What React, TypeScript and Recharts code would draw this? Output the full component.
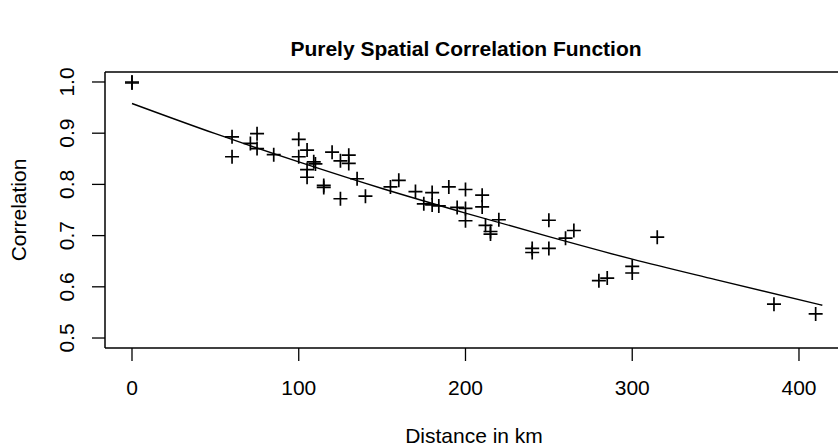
import { ComposedChart, Scatter, Line, XAxis, YAxis, ReferenceLine } from 'recharts';

// station pair distances (km) and their empirical correlations
const distances = [
  0, 0, 60, 60, 71, 75, 75, 85, 100, 100, 105, 105, 105, 109, 110, 115, 115, 120, 125, 125,
  130, 130, 135, 140, 155, 160, 170, 175, 180, 180, 184, 190, 195, 200, 200, 200, 210, 210,
  212, 215, 215, 220, 240, 240, 250, 250, 260, 265, 280, 285, 300, 300, 315, 385, 410,
];
const correlations = [
  1.0, 0.998, 0.893, 0.854, 0.88, 0.899, 0.87, 0.858, 0.888, 0.854, 0.867, 0.829, 0.814, 0.844,
  0.84, 0.798, 0.794, 0.863, 0.846, 0.772, 0.857, 0.841, 0.811, 0.777, 0.795, 0.808, 0.786,
  0.762, 0.784, 0.76, 0.758, 0.795, 0.755, 0.79, 0.753, 0.729, 0.779, 0.756, 0.72, 0.708, 0.703,
  0.731, 0.675, 0.667, 0.73, 0.675, 0.695, 0.71, 0.612, 0.617, 0.64, 0.627, 0.697, 0.566, 0.547,
];

// fitted curve
const fitDistances = [0, 50, 100, 150, 200, 250, 300, 350, 414];
const fitCorrelations = [0.958, 0.899, 0.844, 0.792, 0.744, 0.698, 0.654, 0.614, 0.564];

const xTicks = [0, 100, 200, 300, 400];
const yTicks = [0.5, 0.6, 0.7, 0.8, 0.9, 1.0];

const X_DOMAIN: [number, number] = [-16.19, 423.4];
const Y_DOMAIN: [number, number] = [0.4805, 1.0195];

const FONT = '"Liberation Sans", Arial, Helvetica, sans-serif';

const points = distances.map((d, i) => ({ x: d, y: correlations[i] }));
const fit = fitDistances.map((d, i) => ({ x: d, y: fitCorrelations[i] }));

const Cross = (props: any) => {
  const { cx, cy } = props;
  if (cx == null || cy == null) return null;
  const r = 7;
  return (
    <path
      d={`M${cx - r},${cy}H${cx + r}M${cx},${cy - r}V${cy + r}`}
      stroke="#000"
      strokeWidth={1.7}
      fill="none"
    />
  );
};

const XTick = (props: any) => {
  const { x, payload } = props;
  return (
    <text x={x} y={395} textAnchor="middle" fontSize={21} fontFamily={FONT} fill="#000">
      {payload.value}
    </text>
  );
};

const YTick = (props: any) => {
  const { y, payload } = props;
  const bx = 74;
  return (
    <text
      x={bx}
      y={y}
      transform={`rotate(-90 ${bx} ${y})`}
      textAnchor="middle"
      fontSize={21}
      fontFamily={FONT}
      fill="#000"
    >
      {Number(payload.value).toFixed(1)}
    </text>
  );
};

export default function App() {
  return (
    <div style={{ position: 'absolute', left: 0, top: 0, width: 838, height: 447, background: '#fff' }}>
      <svg width={838} height={447} style={{ position: 'absolute', left: 0, top: 0 }}>
        <text x={466} y={56} textAnchor="middle" fontSize={21} fontWeight="bold" fontFamily={FONT} fill="#000">
          Purely Spatial Correlation Function
        </text>
        <text x={474} y={443} textAnchor="middle" fontSize={21} fontFamily={FONT} fill="#000">
          Distance in km
        </text>
        <text
          x={26}
          y={210}
          transform="rotate(-90 26 210)"
          textAnchor="middle"
          fontSize={21}
          fontFamily={FONT}
          fill="#000"
        >
          Correlation
        </text>
      </svg>
      <div style={{ position: 'absolute', left: 0, top: 0 }}>
        <ComposedChart width={838} height={447} margin={{ top: 72, right: 0, bottom: 0, left: 0 }}>
          <XAxis
            type="number"
            dataKey="x"
            domain={X_DOMAIN}
            ticks={xTicks}
            height={99}
            tickSize={13}
            axisLine={{ stroke: '#000', strokeWidth: 1.5 }}
            tickLine={{ stroke: '#000', strokeWidth: 1.3 }}
            tick={<XTick />}
            allowDataOverflow
          />
          <YAxis
            type="number"
            dataKey="y"
            domain={Y_DOMAIN}
            ticks={yTicks}
            width={105}
            tickSize={13}
            axisLine={{ stroke: '#000', strokeWidth: 1.5 }}
            tickLine={{ stroke: '#000', strokeWidth: 1.3 }}
            tick={<YTick />}
            allowDataOverflow
          />
          <ReferenceLine y={Y_DOMAIN[1]} stroke="#000" strokeWidth={1.5} />
          <Scatter data={points} dataKey="y" shape={<Cross />} isAnimationActive={false} />
          <Line
            data={fit}
            dataKey="y"
            type="monotone"
            dot={false}
            stroke="#000"
            strokeWidth={1.4}
            isAnimationActive={false}
          />
        </ComposedChart>
      </div>
    </div>
  );
}
